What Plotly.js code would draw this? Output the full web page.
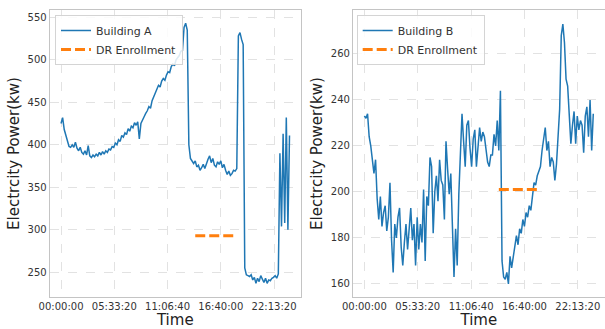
<!DOCTYPE html>
<html>
<head>
<meta charset="utf-8">
<script src="https://cdn.plot.ly/plotly-3.0.1.min.js"></script>
<style>html,body{margin:0;padding:0;background:#fff;}#chart{width:605px;height:329px;}</style>
</head>
<body>
<div id="chart"></div>
<script>
// ---- data (10-minute samples starting 00:00:00) ----
const buildingA = [
425,432,418,412,405,398,397,400,397,403,
396,393,397,391,389,393,388,399,387,385,
388,386,389,387,391,388,392,389,393,391,
395,394,398,397,402,400,406,404,411,409,
414,412,419,416,422,420,426,423,427,407,
425,430,433,437,440,445,443,452,456,462,
465,470,468,475,478,476,482,486,485,492,
495,493,500,503,505,510,511,538,543,535,
400,384,380,378,381,374,376,370,373,377,
372,379,383,387,379,384,376,374,380,377,
381,373,377,370,365,369,364,366,370,369,
372,528,532,524,518,255,247,246,245,247,
241,244,237,243,239,246,242,238,243,237,
241,240,243,244,246,243,248,390,304,413,
308,432,300,411
];
const buildingB = [
233,232,234,224,220,214,208,214,197,188,
198,185,191,194,183,189,204,179,165,186,
180,189,193,176,168,178,186,175,183,193,
179,186,168,189,175,186,178,201,170,198,
194,215,211,182,200,207,196,214,205,203,
188,222,210,199,208,185,163,184,168,199,
214,234,222,211,229,231,219,211,223,227,
211,220,228,222,226,224,217,213,211,216,
216,225,220,231,218,244,170,163,162,165,
160,172,167,172,176,181,177,184,182,188,
185,191,189,194,192,198,204,203,207,209,
211,218,223,228,218,222,211,215,213,205,
212,224,236,268,273,265,249,246,232,221,
229,235,221,233,227,231,229,217,233,237,
224,240,218,234
];
const sampleStepSeconds = 600;
const drWindow = [50400, 64800];       // 14:00:00 - 18:00:00
const drLevelA = [293, 293];
const drLevelB = [201, 201];
const tickSeconds = [0, 20000, 40000, 60000, 80000];
const tickLabels = ['00:00:00', '05:33:20', '11:06:40', '16:40:00', '22:13:20'];
const yTicksA = [250, 300, 350, 400, 450, 500, 550];
const yTicksB = [160, 180, 200, 220, 240, 260];

const timesA = buildingA.map((_, i) => i * sampleStepSeconds);
const timesB = buildingB.map((_, i) => i * sampleStepSeconds);

const blue = '#1f77b4', orange = '#ff7f0e';
const font = 'DejaVu Sans, sans-serif';

const traces = [
  {x: timesA, y: buildingA, type: 'scatter', mode: 'lines', name: 'Building A',
   line: {color: blue, width: 1.5}, xaxis: 'x', yaxis: 'y', legend: 'legend'},
  {x: drWindow, y: drLevelA, type: 'scatter', mode: 'lines', name: 'DR Enrollment',
   line: {color: orange, width: 3, dash: '10px,4px'}, xaxis: 'x', yaxis: 'y', legend: 'legend'},
  {x: timesB, y: buildingB, type: 'scatter', mode: 'lines', name: 'Building B',
   line: {color: blue, width: 1.5}, xaxis: 'x2', yaxis: 'y2', legend: 'legend2'},
  {x: drWindow, y: drLevelB, type: 'scatter', mode: 'lines', name: 'DR Enrollment',
   line: {color: orange, width: 3, dash: '10px,4px'}, xaxis: 'x2', yaxis: 'y2', legend: 'legend2'}
];

const axisCommon = {
  showline: true, mirror: true, linecolor: '#c4c4c4', linewidth: 1,
  showgrid: true, gridcolor: '#e2e2e2', griddash: 'dash', gridwidth: 1,
  zeroline: false, ticks: '', automargin: false,
  tickfont: {family: font, size: 10, color: '#333'}
};
const xTitle = {text: 'Time', font: {family: font, size: 15, color: '#222'}, standoff: 3};
const yTitle = {text: 'Electrcity Power(kw)', font: {family: font, size: 15, color: '#222'}, standoff: 4};

const legendCommon = {
  xanchor: 'left', yanchor: 'top', bgcolor: 'rgba(255,255,255,0.85)',
  bordercolor: '#d4d4d4', borderwidth: 1,
  font: {family: font, size: 11, color: '#333'}, tracegroupgap: 0
};

const layout = {
  width: 605, height: 329,
  margin: {l: 49, r: 0, t: 10, b: 32},
  paper_bgcolor: '#fff', plot_bgcolor: '#fff',
  showlegend: true,
  xaxis: Object.assign({}, axisCommon, {domain: [0.0011, 0.4531], range: [-4290, 90090],
    tickvals: tickSeconds, ticktext: tickLabels, title: xTitle, anchor: 'y'}),
  yaxis: Object.assign({}, axisCommon, {domain: [0, 1], range: [220.9, 558.6],
    tickvals: yTicksA, title: yTitle, anchor: 'x'}),
  xaxis2: Object.assign({}, axisCommon, {domain: [0.5466, 0.9995], range: [-4290, 90090],
    tickvals: tickSeconds, ticktext: tickLabels, title: xTitle, anchor: 'y2'}),
  yaxis2: Object.assign({}, axisCommon, {domain: [0, 1], range: [154.3, 279.1],
    tickvals: yTicksB, title: yTitle, anchor: 'x2'}),
  legend: Object.assign({}, legendCommon, {x: 0.0108, y: 0.9826}),
  legend2: Object.assign({}, legendCommon, {x: 0.5534, y: 0.9826})
};

Plotly.newPlot('chart', traces, layout, {displayModeBar: false, staticPlot: true});
</script>
</body>
</html>
